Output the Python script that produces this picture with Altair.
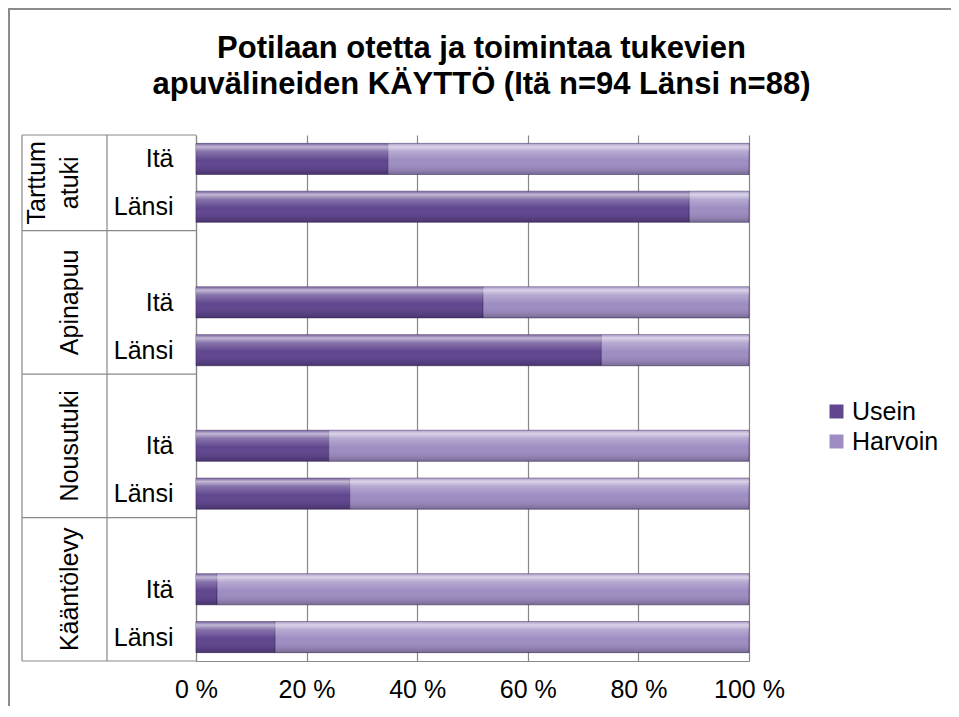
import json
import altair as alt
import pandas as pd

# ---- data ----
groups = ["Tarttumatuki", "Apinapuu", "Nousutuki", "Kääntölevy"]
group_labels = ["Tarttum\natuki", "Apinapuu", "Nousutuki", "Kääntölevy"]
blank_before = [False, True, True, True]       # empty category slot above Itä
regions = ["Itä", "Länsi"]
series = ["Usein", "Harvoin"]
usein_ita = [34.7, 51.9, 24.0, 3.8]             # % Usein, Itä
usein_lansi = [89.2, 73.3, 27.8, 14.3]          # % Usein, Länsi
x_ticks = [0, 20, 40, 60, 80, 100]
title_lines = ["Potilaan otetta ja toimintaa tukevien",
               "apuvälineiden KÄYTTÖ (Itä n=94 Länsi n=88)"]

colors = ["#60468f", "#9e8dc2"]
FONT = "Liberation Sans"
GRID = "#888888"

# ---- build tables ----
rows, row_labels, bounds, centers = [], [], [-0.5], []
idx = 0
for gi, g in enumerate(groups):
    start = idx
    if blank_before[gi]:
        row_labels.append("")
        idx += 1
    for r, vals in zip(regions, [usein_ita, usein_lansi]):
        v = vals[gi] / 100.0
        for s, a, b in [("Usein", 0.0, v), ("Harvoin", v, 1.0)]:
            rows.append(dict(group=g, region=r, series=s, x0=a, x1=b,
                             y_lo=idx - 0.325, y_hi=idx + 0.325))
        row_labels.append(r)
        idx += 1
    bounds.append(idx - 0.5)
    centers.append((start + idx - 1) / 2.0)
n_rows = idx

df = pd.DataFrame(rows)
sep_df = pd.DataFrame({"b": bounds})
grp_df = pd.DataFrame({"label": group_labels, "c": centers,
                       "nlines": [l.count("\n") + 1 for l in group_labels]})
one = pd.DataFrame({"a": [0]})

W, H = 553, 526
yscale = alt.Scale(domain=[-0.5, n_rows - 0.5], reverse=True, nice=False, zero=False)
xscale = alt.Scale(domain=[0, 1], nice=False, zero=False)

label_values = [i for i, l in enumerate(row_labels) if l]

x_axis = alt.Axis(values=[t / 100 for t in x_ticks],
                  labelExpr="format(datum.value*100, '.0f') + ' %'",
                  grid=True, gridColor=GRID, gridWidth=1.2,
                  ticks=False, domainColor=GRID, domainWidth=1.2,
                  labelFont=FONT, labelFontSize=25, labelColor="#000000",
                  labelPadding=16, labelFlush=False, labelOverlap=False, title=None)
y_axis = alt.Axis(values=label_values,
                  labelExpr=json.dumps(row_labels, ensure_ascii=False) + "[datum.value]",
                  grid=False, ticks=False, domainColor=GRID, domainWidth=1.2,
                  labelFont=FONT, labelFontSize=25, labelColor="#000000",
                  labelPadding=23, labelFlush=False, labelOverlap=False, title=None)

base = alt.Chart(df)
bars = base.mark_bar(stroke="#3d2c5c", strokeWidth=0.8, strokeOpacity=0.7).encode(
    x=alt.X("x0:Q", scale=xscale, axis=x_axis),
    x2="x1:Q",
    y=alt.Y("y_lo:Q", scale=yscale, axis=y_axis),
    y2="y_hi:Q",
    color=alt.Color("series:N", scale=alt.Scale(domain=series, range=colors),
                    legend=alt.Legend(orient="none", legendX=628, legendY=264, title=None,
                                      symbolType="square", symbolSize=196,
                                      symbolStrokeWidth=0, labelFont=FONT,
                                      labelFontSize=25, labelColor="#000000",
                                      rowPadding=4, labelOffset=3)),
)
shine = alt.LinearGradient(
    gradient="linear", x1=0, y1=0, x2=0, y2=1,
    stops=[alt.GradientStop(offset=0.0, color="rgba(255,255,255,0.15)"),
           alt.GradientStop(offset=0.11, color="rgba(255,255,255,0.62)"),
           alt.GradientStop(offset=0.26, color="rgba(255,255,255,0.25)"),
           alt.GradientStop(offset=0.55, color="rgba(255,255,255,0.0)"),
           alt.GradientStop(offset=0.85, color="rgba(0,0,0,0.08)"),
           alt.GradientStop(offset=1.0, color="rgba(0,0,0,0.24)")])
gloss = base.mark_bar(color=shine).encode(
    x=alt.X("x0:Q", scale=xscale), x2="x1:Q",
    y=alt.Y("y_lo:Q", scale=yscale), y2="y_hi:Q")

seps = alt.Chart(sep_df).mark_rule(color=GRID, strokeWidth=1.2).encode(
    y=alt.Y("b:Q", scale=yscale), x=alt.value(-174), x2=alt.value(0))
vline_outer = alt.Chart(one).mark_rule(color=GRID, strokeWidth=1.2).encode(
    x=alt.value(-174), y=alt.value(0), y2=alt.value(H))
vline_inner = alt.Chart(one).mark_rule(color=GRID, strokeWidth=1.2).encode(
    x=alt.value(-89), y=alt.value(0), y2=alt.value(H))

txt_kw = dict(angle=270, font=FONT, fontSize=25, color="#000000",
              lineBreak="\n", lineHeight=33, align="center", baseline="bottom")
grp_text1 = alt.Chart(grp_df).transform_filter("datum.nlines == 1").mark_text(**txt_kw).encode(
    y=alt.Y("c:Q", scale=yscale), x=alt.value(-113), text="label:N")
grp_text2 = alt.Chart(grp_df).transform_filter("datum.nlines == 2").mark_text(**txt_kw).encode(
    y=alt.Y("c:Q", scale=yscale), x=alt.value(-146), text="label:N")

frame_left = alt.Chart(one).mark_rule(color="#8c8c8c", strokeWidth=2).encode(
    x=alt.value(-187), y=alt.value(-127), y2=alt.value(H + 60))
frame_top = alt.Chart(one).mark_rule(color="#8c8c8c", strokeWidth=2).encode(
    y=alt.value(-126), x=alt.value(-188), x2=alt.value(W + 230))

chart = alt.layer(frame_left, frame_top, vline_outer, vline_inner, seps,
                  bars, gloss, grp_text1, grp_text2).properties(
    width=W, height=H,
    autosize=alt.AutoSizeParams(type="none"),
    padding={"left": 188, "top": 127, "right": 202, "bottom": 45},
    title=alt.TitleParams(text=title_lines, font=FONT, fontSize=31, fontWeight="bold",
                          color="#000000", anchor="middle", frame="group", dx=9,
                          offset=-94, lineHeight=36),
).configure_view(stroke="transparent")

chart.save("out.html", embed_options={"renderer": "svg", "actions": False})
